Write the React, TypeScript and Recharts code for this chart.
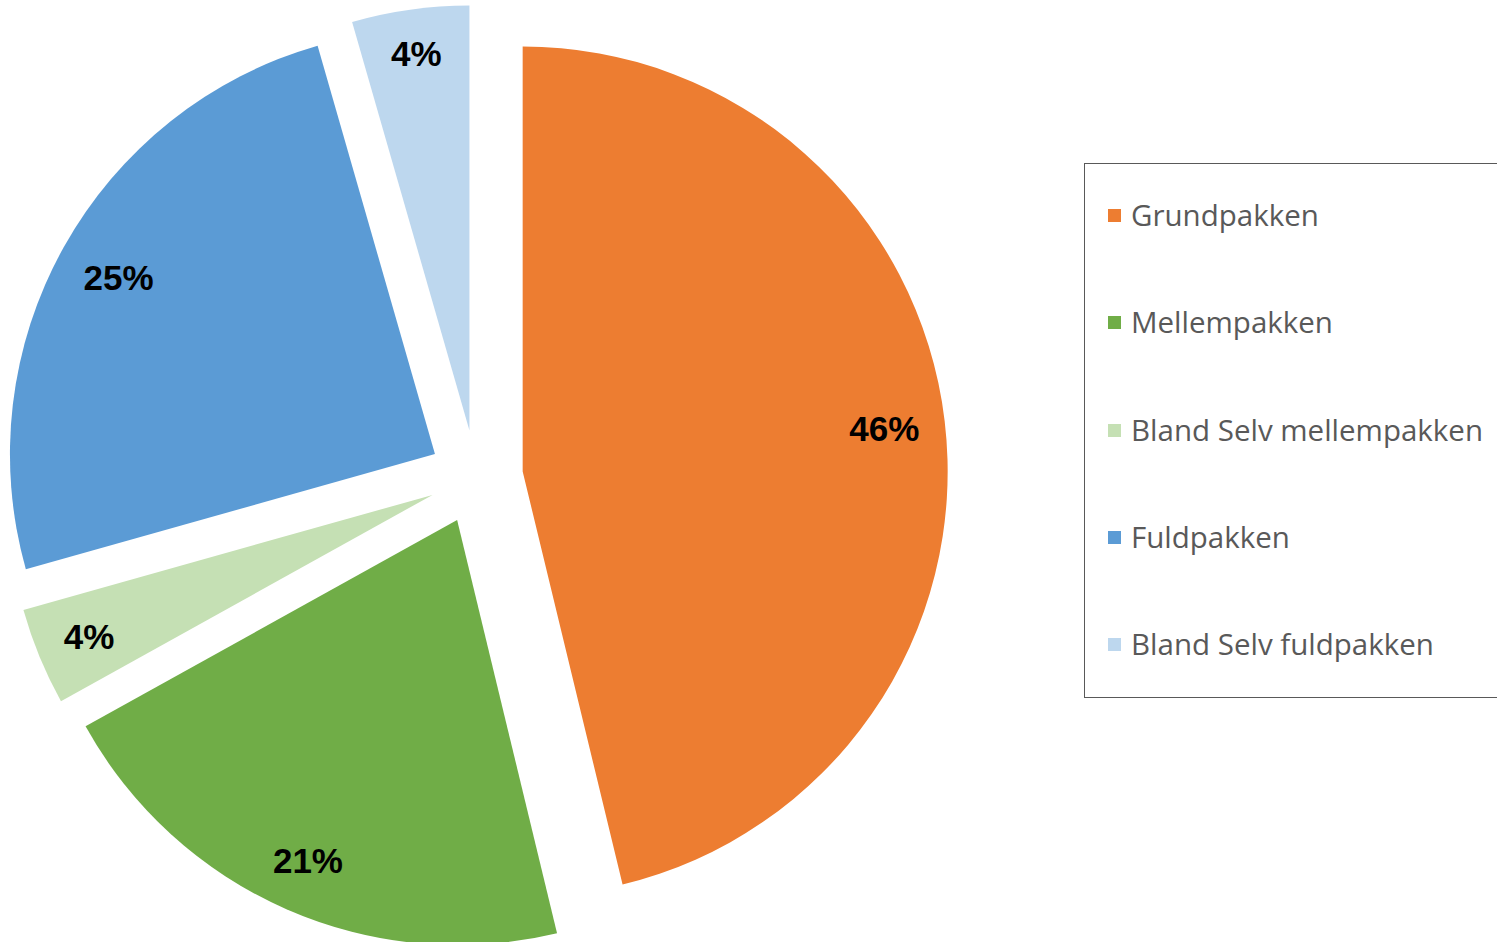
import { PieChart, Pie, Cell, Legend } from 'recharts';

const names = ['Grundpakken', 'Mellempakken', 'Bland Selv mellempakken', 'Fuldpakken', 'Bland Selv fuldpakken'];
const shares = [46.2, 20.7, 3.7, 24.9, 4.45];
const colors = ['#ED7D31', '#70AD47', '#C5E0B4', '#5B9BD5', '#BDD7EE'];

const data = names.map((name, i) => ({ name, value: shares[i] }));
const total = shares.reduce((a, b) => a + b, 0);

// pie geometry (Excel-style exploded slices)
const CX = 476;
const CY = 477;
const R = 425;
const EXPLODE = 47;
const LABEL_EDGE = 401; // outer edge of label box, from the slice's own centre
const LABEL_SIZE = 35;
const RADIAN = Math.PI / 180;

// offset of each slice along its own middle direction
const offsets = shares.map((v, i) => {
  const before = shares.slice(0, i).reduce((a, b) => a + b, 0);
  const theta = ((before + v / 2) / total) * 2 * Math.PI; // clockwise from top
  return { dx: EXPLODE * Math.sin(theta), dy: -EXPLODE * Math.cos(theta) };
});

const makeLabel = (slice: number) => (props: any) => {
  if (props.index !== slice) return null;
  const { cx, cy, midAngle, percent } = props;
  const text = `${Math.round(percent * 100)}%`;
  const cos = Math.cos(-midAngle * RADIAN);
  const sin = Math.sin(-midAngle * RADIAN);
  // keep the whole text box inside the slice, like Excel's inside-end labels
  const halfW = (text.length === 2 ? 25 : 35) * (LABEL_SIZE / 35);
  const halfH = 17;
  const r = LABEL_EDGE - (Math.abs(cos) * halfW + Math.abs(sin) * halfH);
  const x = cx + r * cos;
  const y = cy + r * sin;
  return (
    <text
      x={x}
      y={y}
      textAnchor="middle"
      dominantBaseline="central"
      fill="#000"
      fontFamily="'Liberation Sans', Arial, sans-serif"
      fontWeight="bold"
      fontSize={LABEL_SIZE}
    >
      {text}
    </text>
  );
};

const renderLegend = () => (
  <div
    style={{
      width: 440,
      height: 535,
      boxSizing: 'border-box',
      border: '1px solid #595959',
      fontFamily: "'Open Sans', sans-serif",
      fontSize: 29.5,
      color: '#595959',
      overflow: 'hidden',
    }}
  >
    <div style={{ marginTop: -3 }}>
      {names.map((n, i) => (
        <div key={n} style={{ height: 107.25, display: 'flex', alignItems: 'center', paddingLeft: 23 }}>
          <span style={{ width: 13, height: 13, background: colors[i], marginRight: 10, flexShrink: 0, position: 'relative', top: 1 }} />
          <span style={{ whiteSpace: 'nowrap' }}>{n}</span>
        </div>
      ))}
    </div>
  </div>
);

export default function App() {
  return (
    <div style={{ position: 'absolute', left: 0, top: 0, width: 1497, height: 942, overflow: 'hidden', background: '#fff' }}>
      <PieChart width={1497} height={942} margin={{ top: 0, right: 0, bottom: 0, left: 0 }}>
        {offsets.map((o, s) => (
          <Pie
            key={names[s]}
            data={data}
            dataKey="value"
            nameKey="name"
            cx={CX + o.dx}
            cy={CY + o.dy}
            outerRadius={R}
            startAngle={90}
            endAngle={-270}
            stroke="none"
            labelLine={false}
            label={makeLabel(s)}
            isAnimationActive={false}
          >
            {data.map((d, i) => (
              <Cell key={d.name} fill={i === s ? colors[i] : 'none'} stroke="none" />
            ))}
          </Pie>
        ))}
        <Legend
          layout="vertical"
          align="right"
          verticalAlign="middle"
          content={renderLegend}
          wrapperStyle={{ left: 1084, top: 163, right: 'auto', bottom: 'auto', width: 440 }}
        />
      </PieChart>
    </div>
  );
}
